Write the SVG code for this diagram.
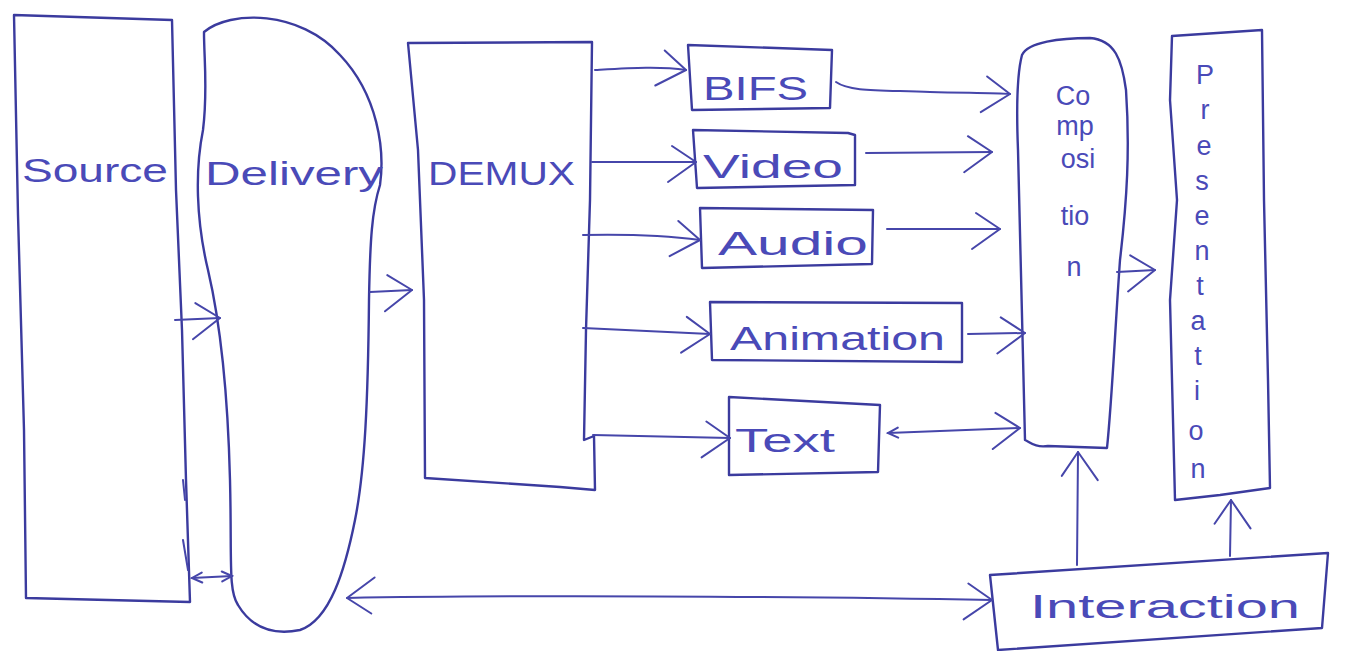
<svg xmlns="http://www.w3.org/2000/svg" width="1366" height="651" viewBox="0 0 1366 651">
<defs>
<style>
.shape{fill:none;stroke:#3b3b9e;stroke-width:2.4;stroke-linejoin:round;stroke-linecap:round}
.conn{fill:none;stroke:#4646aa;stroke-width:2;stroke-linecap:round}
.lbl{font-family:"Liberation Sans","DejaVu Sans",sans-serif;fill:#4a4ab8;font-size:34px}
.vl{font-family:"Liberation Sans","DejaVu Sans",sans-serif;fill:#4a4ab8;font-size:27px;text-anchor:middle}
</style>
<marker id="ah" markerUnits="userSpaceOnUse" markerWidth="34" markerHeight="40" refX="30" refY="18" orient="auto" viewBox="0 0 34 40">
<path d="M6,2 L30,18 L2,38" fill="none" stroke="#4646aa" stroke-width="2" stroke-linecap="round" stroke-linejoin="round"/>
</marker>
<marker id="ahs" markerUnits="userSpaceOnUse" markerWidth="34" markerHeight="40" refX="30" refY="18" orient="auto-start-reverse" viewBox="0 0 34 40">
<path d="M6,2 L30,18 L2,38" fill="none" stroke="#4646aa" stroke-width="2" stroke-linecap="round" stroke-linejoin="round"/>
</marker>
<marker id="sm" markerUnits="userSpaceOnUse" markerWidth="14" markerHeight="14" refX="12" refY="7" orient="auto-start-reverse" viewBox="0 0 14 14">
<path d="M2,2 L12,7 L2,12" fill="none" stroke="#4646aa" stroke-width="2" stroke-linecap="round"/>
</marker>
</defs>
<rect width="1366" height="651" fill="#ffffff"/>

<g id="source">
<path class="shape" d="M14,15 L172,20 L176,190 L182,330 L186,480 L190,602 L26,598 L24,430 L18,215 Z"/>
<text class="lbl" x="22" y="182" textLength="146" lengthAdjust="spacingAndGlyphs">Source</text>
</g>

<g id="delivery">
<path class="shape" d="M204,32 C230,10 300,10 340,55 C378,95 385,150 380,185 C372,210 370,240 369,300 C368,400 365,470 355,520 C345,570 330,620 300,630 C270,636 250,625 238,605 C228,590 232,560 230,480 C228,400 222,330 208,270 C196,220 195,170 203,130 C208,90 204,60 204,32 Z"/>
<text class="lbl" x="205" y="185" textLength="178" lengthAdjust="spacingAndGlyphs">Delivery</text>
</g>

<g id="demux">
<path class="shape" d="M408,43 L592,42 L590,200 L586,330 L584,440 L594,436 L595,490 L560,487 L425,478 L424,300 L418,150 Z"/>
<text class="lbl" x="428" y="185" font-size="40" textLength="147" lengthAdjust="spacingAndGlyphs">DEMUX</text>
</g>

<g id="bifs">
<path class="shape" d="M688,45 L832,50 L830,108 L692,110 Z"/>
<text class="lbl" x="703" y="100" textLength="105" lengthAdjust="spacingAndGlyphs">BIFS</text>
</g>

<g id="video">
<path class="shape" d="M693,130 L848,133 L855,135 L855,185 L697,188 Z"/>
<text class="lbl" x="703" y="178" textLength="140" lengthAdjust="spacingAndGlyphs">Video</text>
</g>

<g id="audio">
<path class="shape" d="M700,208 L873,210 L872,264 L702,268 Z"/>
<text class="lbl" x="718" y="255" textLength="150" lengthAdjust="spacingAndGlyphs">Audio</text>
</g>

<g id="animation">
<path class="shape" d="M710,302 L962,303 L962,362 L712,360 Z"/>
<text class="lbl" x="730" y="350" textLength="215" lengthAdjust="spacingAndGlyphs">Animation</text>
</g>

<g id="text">
<path class="shape" d="M729,397 L880,405 L878,472 L729,475 Z"/>
<text class="lbl" x="735" y="452" textLength="100" lengthAdjust="spacingAndGlyphs">Text</text>
</g>

<g id="composition">
<path class="shape" d="M1022,55 C1028,42 1060,38 1090,38 C1115,40 1122,60 1126,90 C1130,150 1127,200 1120,260 C1115,330 1112,400 1107,448 L1048,446 C1035,448 1030,442 1025,440 C1022,350 1020,250 1018,150 C1016,100 1018,70 1022,55 Z"/>
<text class="vl" x="1073" y="105">Co</text>
<text class="vl" x="1075" y="135">mp</text>
<text class="vl" x="1078" y="168">osi</text>
<text class="vl" x="1075" y="225">tio</text>
<text class="vl" x="1074" y="276">n</text>
</g>

<g id="presentation">
<path class="shape" d="M1172,36 L1262,30 L1264,200 L1268,380 L1270,488 L1220,495 L1175,500 L1170,300 L1177,200 L1170,100 Z"/>
<text class="vl" x="1205" y="84">P</text>
<text class="vl" x="1205" y="119">r</text>
<text class="vl" x="1204" y="155">e</text>
<text class="vl" x="1202" y="190">s</text>
<text class="vl" x="1202" y="225">e</text>
<text class="vl" x="1202" y="260">n</text>
<text class="vl" x="1200" y="295">t</text>
<text class="vl" x="1198" y="330">a</text>
<text class="vl" x="1198" y="365">t</text>
<text class="vl" x="1197" y="400">i</text>
<text class="vl" x="1196" y="440">o</text>
<text class="vl" x="1198" y="478">n</text>
</g>

<g id="interaction">
<path class="shape" d="M990,575 L1328,553 L1322,628 L998,650 Z"/>
<text class="lbl" x="1030" y="618" textLength="270" lengthAdjust="spacingAndGlyphs">Interaction</text>
</g>

<g id="connectors">
<path class="conn" marker-end="url(#ah)" d="M175,320 L220,318"/>
<path class="conn" marker-start="url(#sm)" marker-end="url(#sm)" d="M192,578 L232,576"/>
<path class="conn" d="M183,480 L185,500 M183,540 L188,570"/>
<path class="conn" marker-end="url(#ah)" d="M370,292 L412,290"/>
<path class="conn" marker-end="url(#ah)" d="M595,70 C630,68 660,66 686,70"/>
<path class="conn" marker-end="url(#ah)" d="M592,162 L696,162"/>
<path class="conn" marker-end="url(#ah)" d="M583,235 C630,234 670,236 700,240"/>
<path class="conn" marker-end="url(#ah)" d="M583,328 L710,334"/>
<path class="conn" marker-end="url(#ah)" d="M593,435 L730,438"/>
<path class="conn" marker-end="url(#ah)" d="M836,82 C850,92 880,90 930,92 C970,93 995,93 1010,94"/>
<path class="conn" marker-end="url(#ah)" d="M866,153 L992,152"/>
<path class="conn" marker-end="url(#ah)" d="M887,229 L1000,229"/>
<path class="conn" marker-end="url(#ah)" d="M968,334 L1025,333"/>
<path class="conn" marker-start="url(#sm)" marker-end="url(#ah)" d="M888,433 L1020,428"/>
<path class="conn" marker-end="url(#ah)" d="M1117,272 L1155,270"/>
<path class="conn" marker-end="url(#ah)" d="M1077,565 L1078,452"/>
<path class="conn" marker-end="url(#ah)" d="M1230,556 L1231,500"/>
<path class="conn" marker-start="url(#ahs)" marker-end="url(#ah)" d="M347,598 C500,595 800,596 992,600"/>
</g>
</svg>
